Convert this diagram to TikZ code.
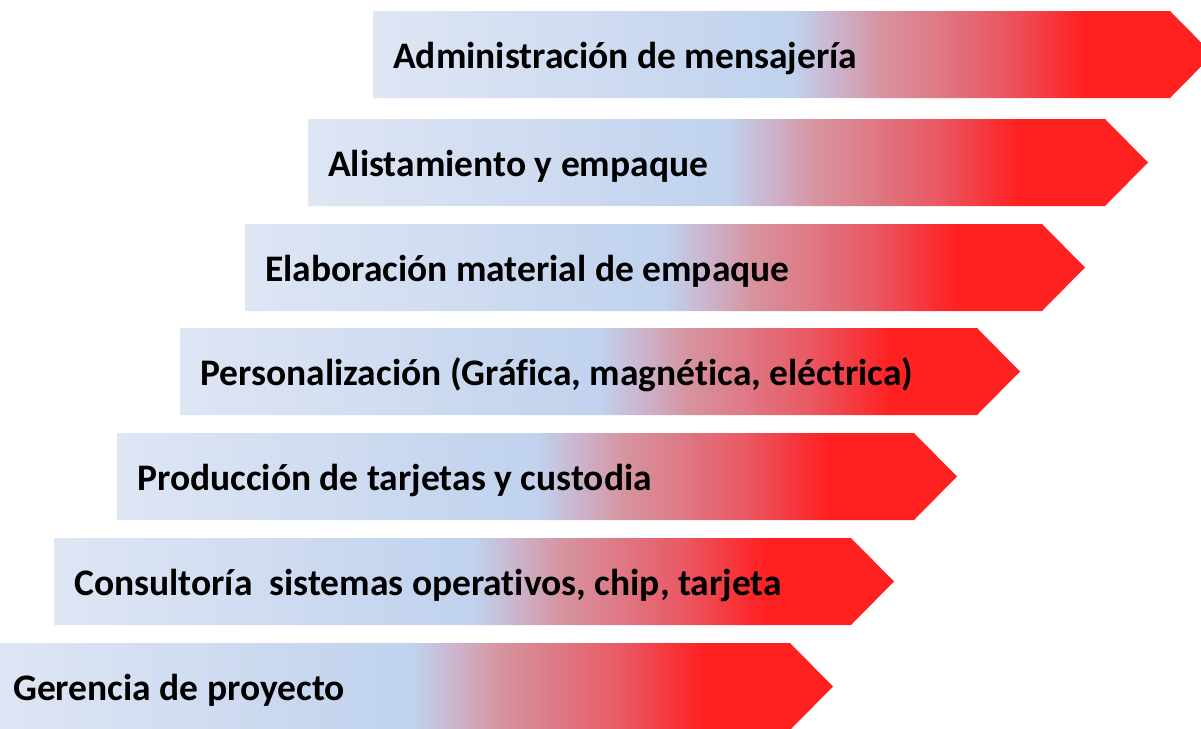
\documentclass[tikz,border=0pt]{standalone}
\usepackage{fontspec}
\setmainfont{Carlito}[Ligatures=NoCommon]
\usepackage{xcolor}
\usetikzlibrary{calc}
\definecolor{paleblue}{HTML}{DFE6F4}
\definecolor{midblue}{HTML}{C0D2EE}
\definecolor{mauve}{HTML}{CDB0C8}
\definecolor{rose}{HTML}{D6949F}
\definecolor{blush}{HTML}{DE7884}
\definecolor{coral}{HTML}{E95A64}
\definecolor{scarlet}{HTML}{F83035}
\definecolor{bannerred}{HTML}{FF2020}
\pgfdeclarehorizontalshading{bannershading}{100bp}{color(0bp)=(paleblue); color(25bp)=(paleblue); color(50bp)=(midblue); color(52.8bp)=(mauve); color(55.2bp)=(rose); color(58.75bp)=(blush); color(62.3bp)=(coral); color(65.9bp)=(scarlet); color(67.4bp)=(bannerred); color(75bp)=(bannerred); color(100bp)=(bannerred)}
\tikzstyle{banner shade}=[shading=bannershading, shading angle=0]
\tikzstyle{banner text}=[font=\fontsize{37.5}{45}\selectfont\bfseries, text=black, inner sep=0pt, anchor=base west]
\newcommand{\banner}[4]{
 \shade[banner shade] (#2,#3) -- ++(797,0) -- ++(43,43.5) -- ++(-43,43.5) -- ++(-797,0) -- cycle;
 \node[banner text] (#1) at (#2+20,#3+57) {#4};
}

\begin{document}
\begin{tikzpicture}[x=1pt,y=-1pt]
 \useasboundingbox (0,0) rectangle (1201,728);
 \clip (0,0) rectangle (1201,728);
%
 \banner{gerencia}{-7}{643}{Gerencia de proyecto}
 \banner{consultoria}{54}{538}{Consultoría~ sistemas operativos, chip, tarjeta}
 \banner{produccion}{117}{433}{Producción de tarjetas y custodia}
 \banner{personalizacion}{180}{328}{Personalización (Gráfica, magnética, eléctrica)}
 \banner{elaboracion}{245}{224}{Elaboración material de empaque}
 \banner{alistamiento}{308}{119}{Alistamiento y empaque}
 \banner{mensajeria}{373}{11}{Administración de mensajería}
\end{tikzpicture}
\end{document}
